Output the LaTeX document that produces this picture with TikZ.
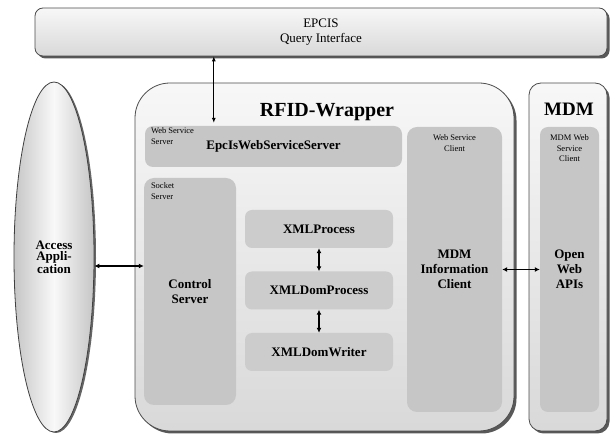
\documentclass[tikz,border=0pt]{standalone}
\usepackage{fontspec}
\setmainfont{Liberation Serif}
\usetikzlibrary{shapes.geometric,shadows,positioning,arrows.meta}

\begin{document}
\begin{tikzpicture}[x=1pt,y=-1pt,
	outerbox/.style={draw=black!70, line width=0.8pt, rounded corners=#1, inner sep=0pt,
		top color=gray!6, bottom color=gray!30,
		drop shadow={shadow xshift=2.5pt, shadow yshift=-2.5pt, fill=black!65, opacity=1}},
	outerbox/.default=8pt,
	innerbox/.style={fill=gray!45, rounded corners=#1, inner sep=0pt, align=center},
	innerbox/.default=9pt,
	boldtxt/.style={font=\fontsize{13}{15}\selectfont\bfseries},
	smalltxt/.style={font=\fontsize{8.5}{10.5}\selectfont, inner sep=0pt},
	conn/.style={{Latex[length=5pt,width=5pt]}-{Latex[length=5pt,width=5pt]}, line width=1.3pt}]
	% Frame
	\useasboundingbox (0,0) rectangle (611,435);
	
	% Outer boxes
	\node[outerbox, minimum width=572pt, minimum height=48pt, align=center,
		font=\fontsize{13}{15}\selectfont] (epcis) at (321,32) {EPCIS\\Query Interface};
	\node[outerbox=35pt, minimum width=379pt, minimum height=348pt] (wrapper) at (324.5,257) {};
	\node[outerbox=12pt, minimum width=78pt, minimum height=348pt] (mdm) at (568,257) {};
	\node[ellipse, draw=black!75, line width=0.8pt, minimum width=80pt, minimum height=350pt,
		left color=gray!45, right color=gray!45, middle color=gray!5, inner sep=0pt,
		drop shadow={shadow xshift=2pt, shadow yshift=-1pt, fill=black!60, opacity=1},
		align=center, font=\fontsize{13}{11.5}\selectfont\bfseries] (access) at (54,257) {Access\\Appli-\\cation};
	
	% Titles
	\node[font=\fontsize{20}{22}\selectfont\bfseries] (wraptitle) at (327,112) {RFID-Wrapper};
	\node[font=\fontsize{19}{21}\selectfont\bfseries] (mdmtitle) at (569,109) {MDM};
	
	% Inner boxes
	\node[innerbox=8pt, boldtxt, minimum width=257pt, minimum height=41pt] (wss) at (273.5,146.5) {EpcIsWebServiceServer};
	\node[innerbox=10pt, boldtxt, minimum width=92pt, minimum height=227pt] (ctrl) at (190,291.5) {Control\\Server};
	\node[innerbox=10pt, boldtxt, minimum width=95pt, minimum height=285pt] (wsc) at (454.5,269.5) {MDM\\Information\\Client};
	\node[innerbox=8pt, boldtxt, minimum width=59pt, minimum height=285pt] (mdmc) at (569.5,269.5) {Open\\Web\\APIs};
	
	% XML chain
	\foreach \name/\y/\txt in {xmla/229/XMLProcess, xmlb/290.5/XMLDomProcess, xmlc/352/XMLDomWriter}
	\node[innerbox=7pt, fill=gray!40, boldtxt, minimum width=148pt, minimum height=38pt] (\name) at (319,\y) {\txt};
	
	% Small labels
	\node[smalltxt, anchor=north west, align=left] (wsslbl) at ([xshift=6pt,yshift=-2pt]wss.north west) {Web Service\\Server};
	\node[smalltxt, anchor=north west, align=left] (ctrllbl) at ([xshift=7pt,yshift=-5pt]ctrl.north west) {Socket\\Server};
	\node[smalltxt, anchor=north, align=center] (wsclbl) at ([yshift=-8pt]wsc.north) {Web Service\\Client};
	\node[smalltxt, anchor=north, align=center] (mdmclbl) at ([yshift=-8pt]mdmc.north) {MDM Web\\Service\\Client};
	
	% Connectors
	\draw[{Latex[length=5pt,width=4pt]}-{Latex[length=5pt,width=4pt]}, line width=0.8pt, shorten >=3pt]
		([xshift=69pt]wss.north west |- epcis.south) -- ([xshift=69pt]wss.north west);
	\draw[conn] ([yshift=-9pt]access.east) -- ([yshift=-9pt]access.east -| ctrl.west);
	\draw[conn] (wsc.east) -- (mdmc.west);
	\foreach \a/\b in {xmla/xmlb, xmlb/xmlc}
	\draw[conn] (\a.south) -- (\b.north);
\end{tikzpicture}
\end{document}
